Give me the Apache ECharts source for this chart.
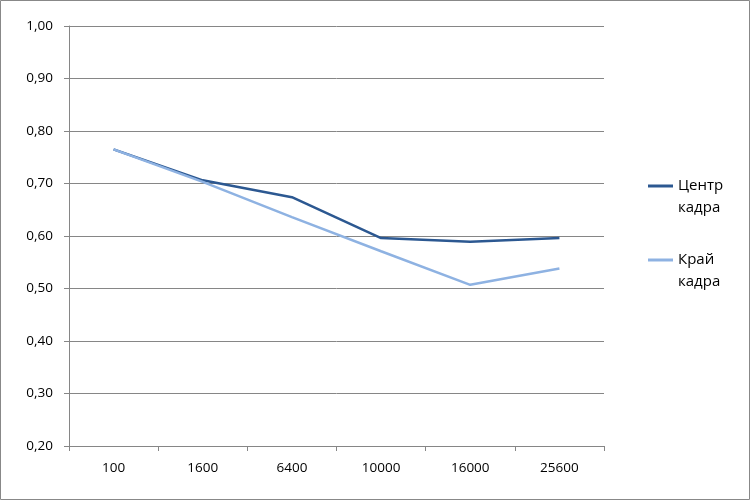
<!DOCTYPE html>
<html><head><meta charset="utf-8">
<script src="https://cdn.jsdelivr.net/npm/echarts@6/dist/echarts.min.js"></script>
<style>html,body{margin:0;padding:0;background:#fff}#c{width:750px;height:500px}</style>
</head><body><div id="c"></div>
<script>
var categories = ['100','1600','6400','10000','16000','25600'];
var centerValues = [0.765, 0.706, 0.674, 0.596, 0.589, 0.596];
var edgeValues = [0.765, 0.703, 0.636, 0.571, 0.507, 0.538];
var seriesNames = ['Центр кадра', 'Край кадра'];
var legendLabels = {'Центр кадра': ' \nЦентр\nкадра', 'Край кадра': ' \nКрай\nкадра'};

var chart = echarts.init(document.getElementById('c'));
var font = 'Open Sans, Noto Sans, sans-serif';
chart.setOption({
  animation: false,
  graphic: [{type:'rect', shape:{x:0.5,y:0.5,width:749,height:499}, style:{fill:'none', stroke:'#888', lineWidth:1}, silent:true}],
  grid: {left: 69, right: 146, top: 26, bottom: 54},
  legend: {
    orient: 'vertical', left: 643, top: 148, padding: 5,
    icon: 'rect', itemWidth: 25, itemHeight: 3, itemGap: 8,
    data: seriesNames,
    formatter: function(n){ return legendLabels[n]; },
    textStyle: {fontFamily: font, fontSize: 15, color: '#000', lineHeight: 22}
  },
  xAxis: {
    type: 'category', data: categories, boundaryGap: true,
    axisLine: {lineStyle: {color: '#868686', width: 1}},
    axisTick: {show: true, length: 5, inside: false, lineStyle: {color: '#868686'}},
    axisLabel: {fontFamily: font, fontSize: 13.5, color: '#000', margin: 15}
  },
  yAxis: {
    type: 'value', min: 0.2, max: 1.0, interval: 0.1,
    axisLine: {show: true, lineStyle: {color: '#868686', width: 1}},
    axisTick: {show: true, length: 5, lineStyle: {color: '#868686'}},
    splitLine: {lineStyle: {color: '#868686', width: 1}},
    axisLabel: {fontFamily: font, fontSize: 13.5, color: '#000', margin: 16,
      formatter: function(v){ return v.toFixed(2).replace('.', ','); }}
  },
  series: [
    {name: seriesNames[0], type: 'line', data: centerValues, symbol: 'none', lineStyle: {color: '#2c5891', width: 2.5}, itemStyle: {color: '#2c5891'}},
    {name: seriesNames[1], type: 'line', data: edgeValues, symbol: 'none', lineStyle: {color: '#8eb2e2', width: 2.5}, itemStyle: {color: '#8eb2e2'}}
  ]
});
</script></body></html>
